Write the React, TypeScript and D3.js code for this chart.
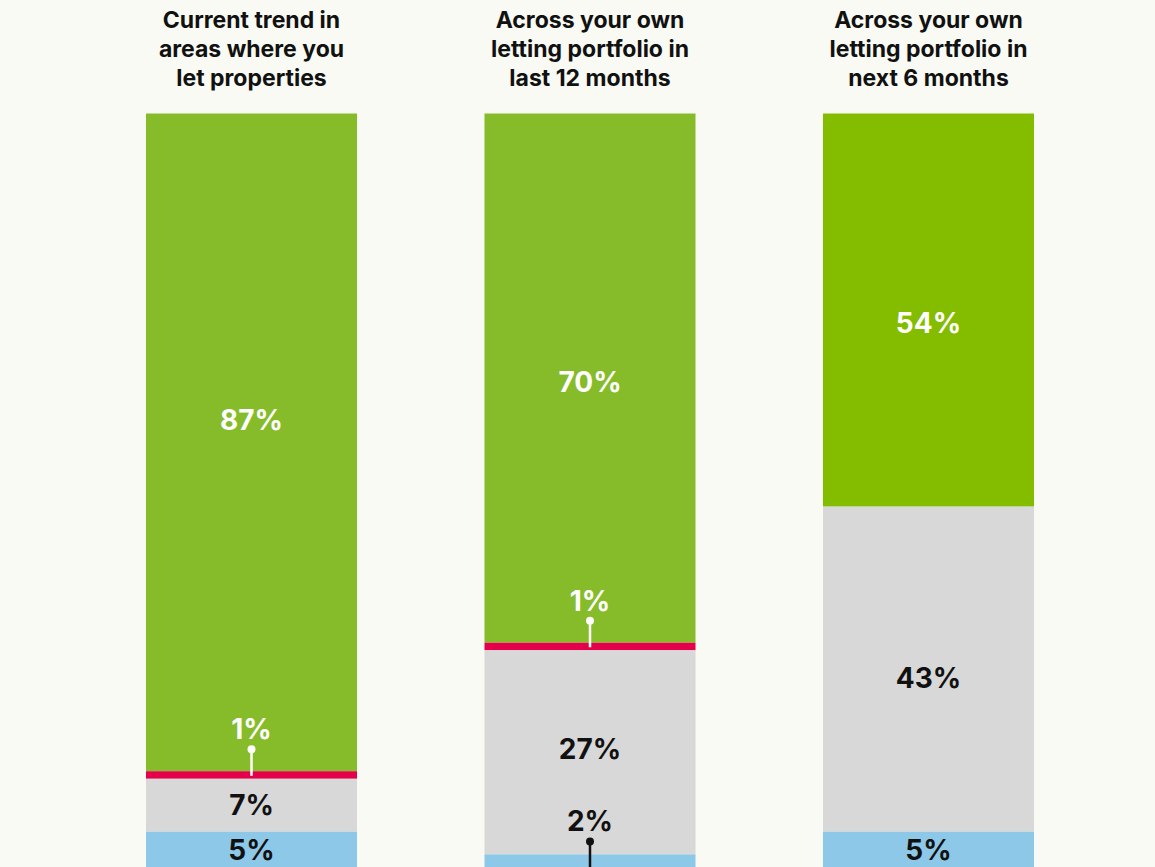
import React from "react";
import * as d3 from "d3";

const titles = [
  ["Current trend in", "areas where you", "let properties"],
  ["Across your own", "letting portfolio in", "last 12 months"],
  ["Across your own", "letting portfolio in", "next 6 months"],
];
const seriesNames = ["Up", "Down", "Same", "Unsure"];
// segment sizes (share of bar), stacked top to bottom
const upValues = [87, 70, 52];
const downValues = [1, 1, 0];
const sameValues = [7, 27, 43];
const unsureValues = [5, 2, 5];
const upLabels = ["87%", "70%", "54%"];
const downLabels = ["1%", "1%", ""];
const sameLabels = ["7%", "27%", "43%"];
const unsureLabels = ["5%", "2%", "5%"];

const W = 1155;
const H = 867;
const BG = "#f8faf3";
const greens = ["#86bc29", "#86bc29", "#84bd00"];
const colors: Record<string, string> = {
  Down: "#e4004b",
  Same: "#d7d8d7",
  Unsure: "#8ec8e8",
};
const FONT = "Inter, 'Open Sans', sans-serif";

export default function App() {
  const x = d3
    .scaleBand<number>()
    .domain([0, 1, 2])
    .range([146, 1034])
    .paddingInner(0.3766)
    .paddingOuter(0);
  const y = d3.scaleLinear().domain([0, 100]).range([113.5, 869.5]);

  const rows = titles.map((_, i) => ({
    Up: upValues[i],
    Down: downValues[i],
    Same: sameValues[i],
    Unsure: unsureValues[i],
  }));
  const stack = d3.stack<any>().keys(seriesNames)(rows);
  const labels: Record<string, string[]> = {
    Up: upLabels,
    Down: downLabels,
    Same: sameLabels,
    Unsure: unsureLabels,
  };
  const upDy = [-22, 4, 13];
  const sameDy = [0, -3, 9];

  return (
    <svg
      width={W}
      height={H}
      style={{ position: "absolute", left: 0, top: 0, background: BG }}
    >
      <rect width={W} height={H} fill={BG} />
      {titles.map((t, i) => (
        <text
          key={"t" + i}
          x={x(i)! + x.bandwidth() / 2}
          textAnchor="middle"
          fontFamily={FONT}
          fontWeight={700}
          fontSize={23}
          fill="#111"
        >
          {t.map((line, j) => (
            <tspan key={j} x={x(i)! + x.bandwidth() / 2} y={28 + j * 29}>
              {line}
            </tspan>
          ))}
        </text>
      ))}
      {stack.map((s) =>
        s.map((d, i) => {
          const key = s.key;
          const fill = key === "Up" ? greens[i] : colors[key];
          if (d[1] - d[0] <= 0) return null;
          return (
            <rect
              key={key + i}
              x={x(i)}
              width={x.bandwidth()}
              y={y(d[0])}
              height={y(d[1]) - y(d[0])}
              fill={fill}
            />
          );
        })
      )}
      {stack.map((s) =>
        s.map((d, i) => {
          const key = s.key;
          const lab = labels[key][i];
          if (!lab) return null;
          const cx = x(i)! + x.bandwidth() / 2;
          const size = d[1] - d[0];
          if (key === "Down" || (key === "Unsure" && size < 3)) {
            const white = key === "Down";
            const col = white ? "#fff" : "#111";
            const top = y(d[0]);
            const dotY = top - (white ? 22 : 13);
            return (
              <g key={"l" + key + i}>
                <line
                  x1={cx}
                  x2={cx}
                  y1={dotY}
                  y2={white ? y(d[1]) - 3 : H}
                  stroke={col}
                  strokeWidth={2.5}
                />
                <circle cx={cx} cy={dotY} r={4} fill={col} />
                <text
                  x={cx}
                  y={dotY - 10}
                  textAnchor="middle"
                  fontFamily={FONT}
                  fontWeight={700}
                  fontSize={28}
                  fill={col}
                >
                  {lab}
                </text>
              </g>
            );
          }
          let cy = (y(d[0]) + y(d[1])) / 2;
          if (key === "Up") cy += upDy[i];
          if (key === "Same") cy += sameDy[i];
          if (key === "Unsure") cy = Math.min(cy, 851);
          return (
            <text
              key={"l" + key + i}
              x={cx}
              y={cy}
              dy="0.35em"
              textAnchor="middle"
              fontFamily={FONT}
              fontWeight={700}
              fontSize={28}
              fill={key === "Up" ? "#fff" : "#111"}
            >
              {lab}
            </text>
          );
        })
      )}
    </svg>
  );
}
